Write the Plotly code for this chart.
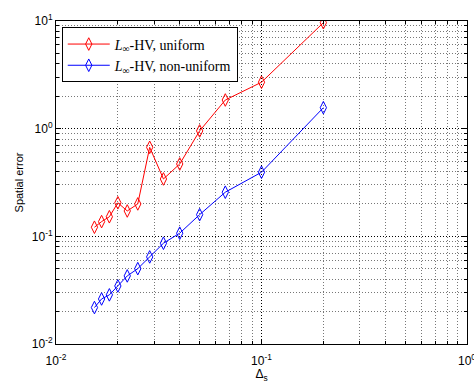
import plotly.graph_objects as go

# Data
delta_s = [1/65, 1/60, 1/55, 1/50, 1/45, 1/40, 1/35, 1/30, 1/25, 1/20, 1/15, 1/10, 1/5]
err_uniform = [0.1215, 0.137, 0.152, 0.205, 0.172, 0.200, 0.671, 0.341, 0.470, 0.953, 1.846, 2.70, 9.64]
err_nonuniform = [0.0218, 0.0262, 0.0286, 0.0346, 0.0429, 0.0501, 0.0644, 0.0863, 0.107, 0.159, 0.257, 0.394, 1.566]

name_uniform = "<i>L</i><sub>∞</sub>-HV, uniform"
name_nonuniform = "<i>L</i><sub>∞</sub>-HV, non-uniform"

x_major = [1e-2, 1e-1, 1e0]
x_major_text = ["10<sup>-2</sup>", "10<sup>-1</sup>", "10<sup>0</sup>"]
y_major = [1e-2, 1e-1, 1e0, 1e1]
y_major_text = ["10<sup>-2</sup>", "10<sup>-1</sup>", "10<sup>0</sup>", "10<sup>1</sup>"]

def minors(lo, hi):
    out = []
    for k in range(lo, hi):
        for m in range(2, 10):
            out.append(m * 10 ** k)
    return out

fig = go.Figure()
fig.add_trace(go.Scatter(
    x=delta_s, y=err_uniform, mode="lines+markers", name=name_uniform,
    line=dict(color="#ff0000", width=1),
    marker=dict(symbol="diamond-tall-open", size=9, color="#ff0000", line=dict(width=1)),
))
fig.add_trace(go.Scatter(
    x=delta_s, y=err_nonuniform, mode="lines+markers", name=name_nonuniform,
    line=dict(color="#0000ff", width=1),
    marker=dict(symbol="diamond-tall-open", size=9, color="#0000ff", line=dict(width=1)),
))

axis_common = dict(
    type="log", showline=True, linecolor="black", linewidth=1, mirror="allticks",
    ticks="inside", ticklen=5, tickcolor="black",
    showgrid=True, gridcolor="black", gridwidth=1, griddash="1px,2px",
    zeroline=False, ticklabeloverflow="allow", automargin=False,
    tickfont=dict(family="Liberation Sans, Arial", size=12, color="black"),
)

fig.update_xaxes(
    **axis_common, range=[-2, 0], tickmode="array", tickvals=x_major, ticktext=x_major_text,
    ticklabelstandoff=6,
    minor=dict(tickmode="array", tickvals=minors(-2, 0), ticks="inside", ticklen=3,
               tickcolor="black", showgrid=True, gridcolor="#777777", griddash="1px,2px", gridwidth=1),
    title=dict(text="Δ<sub>s</sub>", font=dict(family="Liberation Sans, Arial", size=12, color="black"), standoff=4),
)
fig.update_yaxes(
    **axis_common, range=[-2, 1], tickmode="array", tickvals=y_major, ticktext=y_major_text,
    minor=dict(tickmode="array", tickvals=minors(-2, 1), ticks="inside", ticklen=3,
               tickcolor="black", showgrid=True, gridcolor="#777777", griddash="1px,2px", gridwidth=1),
    title=dict(text="Spatial error", font=dict(family="Liberation Sans, Arial", size=11, color="black"), standoff=5),
)

fig.update_layout(
    width=474, height=383,
    margin=dict(l=56, r=7, t=21, b=39, autoexpand=False),
    paper_bgcolor="white", plot_bgcolor="white",
    showlegend=True,
    legend=dict(
        x=0.014, y=0.98, xanchor="left", yanchor="top",
        bgcolor="white", bordercolor="black", borderwidth=1,
        font=dict(family="Liberation Serif, Times New Roman", size=14, color="black"),
        tracegroupgap=6, itemwidth=42,
    ),
)

fig.write_html("out.html")
